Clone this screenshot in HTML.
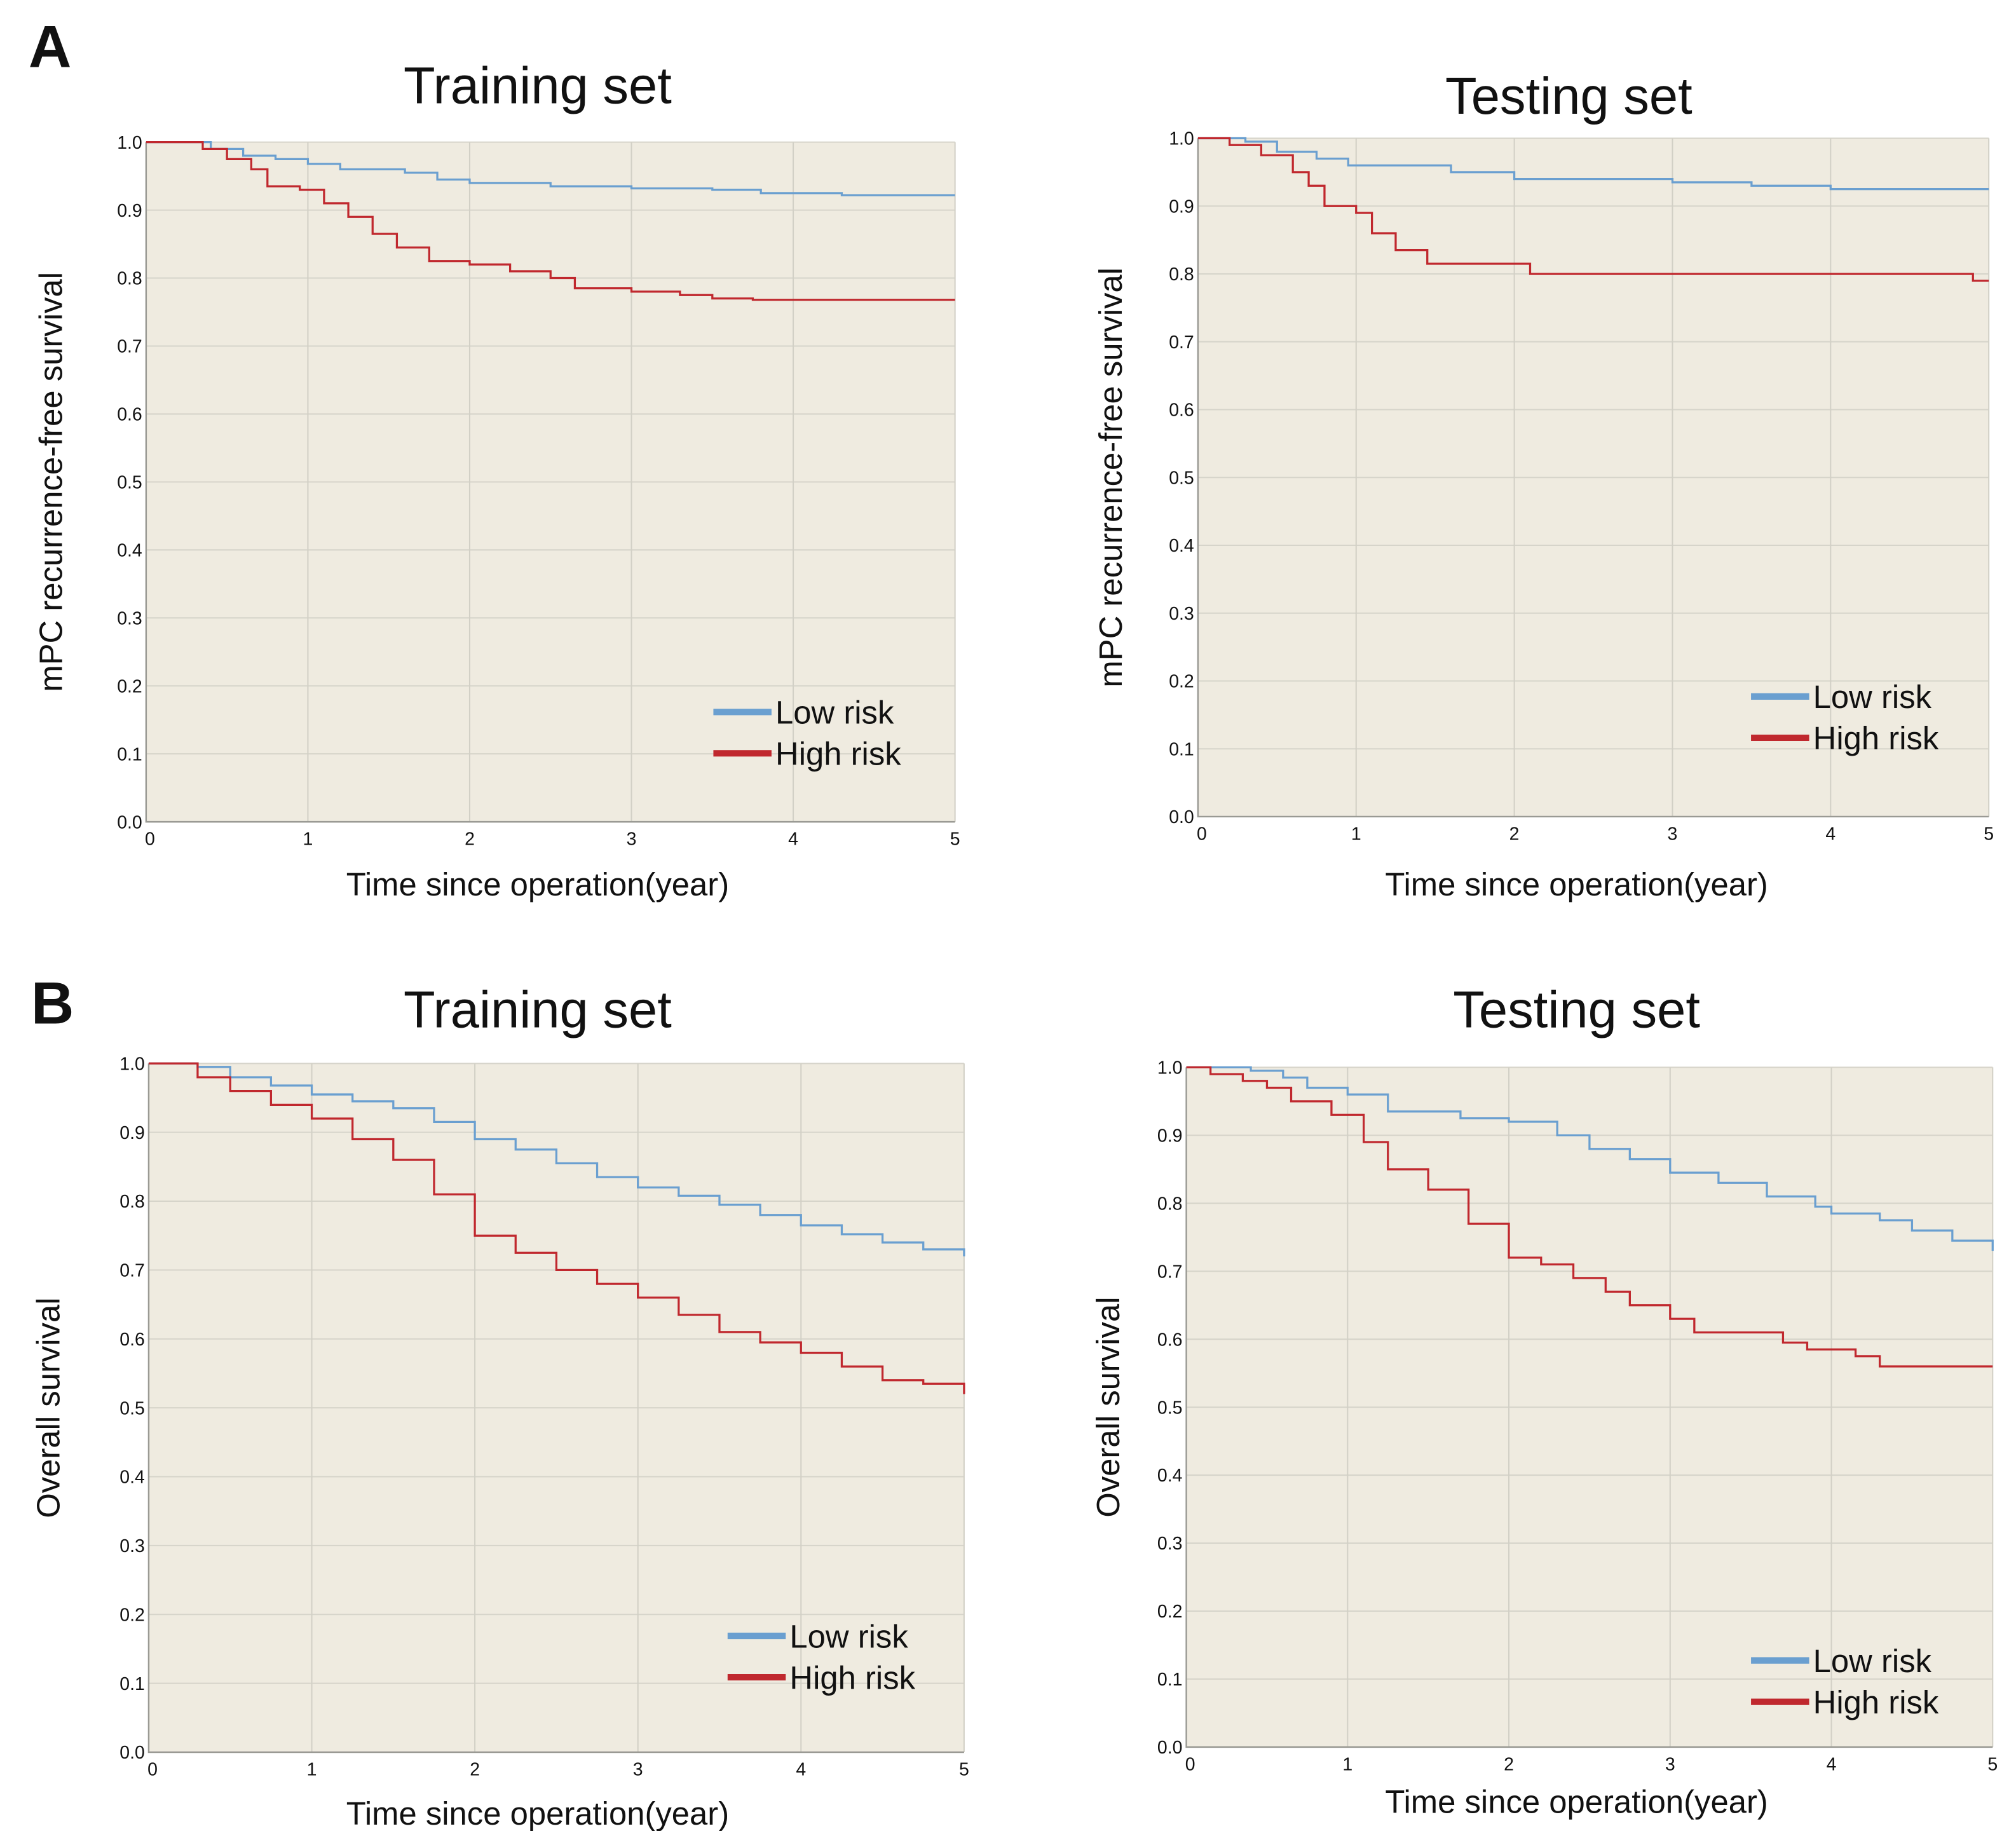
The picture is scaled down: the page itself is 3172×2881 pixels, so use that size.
<!DOCTYPE html>
<html><head><meta charset="utf-8"><style>
html,body{margin:0;padding:0;background:#fff;}
svg{display:block;}
text{font-family:"Liberation Sans",Arial,sans-serif;fill:#111;}
</style></head><body>
<svg id="fig" width="3172" height="2881" viewBox="0 0 1560 1417" xmlns="http://www.w3.org/2000/svg">
<text x="22" y="52" font-size="46" font-weight="bold">A</text>
<text x="24" y="792" font-size="46" font-weight="bold">B</text>
</svg>
<script>
// ---- data arrays ----
const yTicks = [0.0,0.1,0.2,0.3,0.4,0.5,0.6,0.7,0.8,0.9,1.0];
const xTicks = [0,1,2,3,4,5];
const seriesNames = ["Low risk","High risk"];

const aTrainLowT = [0,0.25,0.4,0.6,0.8,1,1.2,1.6,1.8,2,2.5,3,3.5,3.8,4.3,5];
const aTrainLowS = [1,1,0.99,0.98,0.975,0.968,0.96,0.955,0.945,0.94,0.935,0.932,0.93,0.925,0.922,0.922];
const aTrainHighT = [0,0.25,0.35,0.5,0.65,0.75,0.95,1.1,1.25,1.4,1.55,1.75,2,2.25,2.5,2.65,3,3.3,3.5,3.75,5];
const aTrainHighS = [1,1,0.99,0.975,0.96,0.935,0.93,0.91,0.89,0.865,0.845,0.825,0.82,0.81,0.8,0.785,0.78,0.775,0.77,0.768,0.768];

const aTestLowT = [0,0.3,0.5,0.75,0.95,1.6,2,3,3.5,4,5];
const aTestLowS = [1,0.995,0.98,0.97,0.96,0.95,0.94,0.935,0.93,0.925,0.925];
const aTestHighT = [0,0.2,0.4,0.6,0.7,0.8,1,1.1,1.25,1.45,2.1,4.9,5];
const aTestHighS = [1,0.99,0.975,0.95,0.93,0.9,0.89,0.86,0.835,0.815,0.8,0.79,0.79];

const bTrainLowT = [0,0.3,0.5,0.75,1,1.25,1.5,1.75,2,2.25,2.5,2.75,3,3.25,3.5,3.75,4,4.25,4.5,4.75,5];
const bTrainLowS = [1,0.995,0.98,0.968,0.955,0.945,0.935,0.915,0.89,0.875,0.855,0.835,0.82,0.808,0.795,0.78,0.765,0.752,0.74,0.73,0.72];
const bTrainHighT = [0,0.3,0.5,0.75,1,1.25,1.5,1.75,2,2.25,2.5,2.75,3,3.25,3.5,3.75,4,4.25,4.5,4.75,5];
const bTrainHighS = [1,0.98,0.96,0.94,0.92,0.89,0.86,0.81,0.75,0.725,0.7,0.68,0.66,0.635,0.61,0.595,0.58,0.56,0.54,0.535,0.52];

const bTestLowT = [0,0.4,0.6,0.75,1,1.25,1.7,2,2.3,2.5,2.75,3,3.3,3.6,3.9,4,4.3,4.5,4.75,5];
const bTestLowS = [1,0.995,0.985,0.97,0.96,0.935,0.925,0.92,0.9,0.88,0.865,0.845,0.83,0.81,0.795,0.785,0.775,0.76,0.745,0.73];
const bTestHighT = [0,0.15,0.35,0.5,0.65,0.9,1.1,1.25,1.5,1.75,2,2.2,2.4,2.6,2.75,3,3.15,3.7,3.85,4.15,4.3,5];
const bTestHighS = [1,0.99,0.98,0.97,0.95,0.93,0.89,0.85,0.82,0.77,0.72,0.71,0.69,0.67,0.65,0.63,0.61,0.595,0.585,0.575,0.56,0.56];

const NS="http://www.w3.org/2000/svg";
const svg=document.getElementById('fig');
function mk(tag,attrs,parent){const e=document.createElementNS(NS,tag);for(const k in attrs)e.setAttribute(k,attrs[k]);(parent||svg).appendChild(e);return e;}

function panel(p){
  const g=mk('g',{});
  
  
  const sx=t=>p.x0+(p.x1-p.x0)*t/5;
  const sy=v=>p.y0+(p.y1-p.y0)*v;
  const bg=mk('rect',{x:p.x0,y:p.y1,width:p.x1-p.x0,height:p.y0-p.y1,fill:'#efebe0'},g);
  
  
  yTicks.forEach(v=>{
    const l=mk('line',{x1:p.x0,x2:p.x1,y1:sy(v),y2:sy(v),stroke:'#d6d4ca','stroke-width':1},g);
    
    
    const t=mk('text',{x:p.x0-3,y:sy(v)+5,'font-size':14,'text-anchor':'end'},g);
    t.textContent=v.toFixed(1);
    
    
  });
  xTicks.forEach(v=>{
    if(v>0){const l=mk('line',{x1:sx(v),x2:sx(v),y1:p.y1,y2:p.y0,stroke:'#d2d0c6','stroke-width':1},g);
    
    }
    const t=mk('text',{x:sx(v)+(v===0?3:0),y:p.y0+18,'font-size':14,'text-anchor':'middle'},g);
    t.textContent=v;
    
    
  });
  const ax=mk('path',{d:`M${p.x0},${p.y1}V${p.y0}H${p.x1}`,stroke:'#9a9a94','stroke-width':1.2,fill:'none'},g);
  
  
  [[p.lowT,p.lowS,'#6a9fd0','low-risk-curve'],[p.highT,p.highS,'#c0282e','high-risk-curve']].forEach(([T,S,c,n])=>{
    let d=`M${sx(T[0])},${sy(S[0])}`;
    for(let i=1;i<T.length;i++){d+=`H${sx(T[i])}V${sy(S[i])}`;}
    const path=mk('path',{d:d,stroke:c,'stroke-width':1.6,fill:'none'},g);
    
    
  });
  const title=mk('text',{x:p.tx,y:p.ty,'font-size':40,'text-anchor':'middle'},g);
  title.textContent=p.title;
  
  
  const xl=mk('text',{x:p.xlx,y:p.xly,'font-size':25,'text-anchor':'middle'},g);
  xl.textContent='Time since operation(year)';
  
  
  const yc=(p.y0+p.y1)/2;
  const yl=mk('text',{x:p.ylx,y:yc,'font-size':25,'text-anchor':'middle',transform:`rotate(-90 ${p.ylx} ${yc})`},g);
  yl.textContent=p.ylabel;
  
  
  [['#6a9fd0',p.lgy,seriesNames[0]],['#c0282e',p.lgy+32,seriesNames[1]]].forEach(([c,yy,name])=>{
    const ln=mk('line',{x1:p.lgx,x2:p.lgx+45,y1:yy,y2:yy,stroke:c,'stroke-width':5},g);
    
    
    const t=mk('text',{x:p.lgx+48,y:yy+9,'font-size':25},g);
    t.textContent=name;
    
    
  });
}
panel({id:'panel-a-training',x0:113,x1:739,y1:110,y0:636,title:'Training set',tx:416,ty:80,xlx:416,xly:693,ylx:48,ylabel:'mPC recurrence-free survival',lgx:552,lgy:551,lowT:aTrainLowT,lowS:aTrainLowS,highT:aTrainHighT,highS:aTrainHighS});
panel({id:'panel-a-testing',x0:927,x1:1539,y1:107,y0:632,title:'Testing set',tx:1214,ty:88,xlx:1220,xly:693,ylx:868,ylabel:'mPC recurrence-free survival',lgx:1355,lgy:539,lowT:aTestLowT,lowS:aTestLowS,highT:aTestHighT,highS:aTestHighS});
panel({id:'panel-b-training',x0:115,x1:746,y1:823,y0:1356,title:'Training set',tx:416,ty:795,xlx:416,xly:1412,ylx:46,ylabel:'Overall survival',lgx:563,lgy:1266,lowT:bTrainLowT,lowS:bTrainLowS,highT:bTrainHighT,highS:bTrainHighS});
panel({id:'panel-b-testing',x0:918,x1:1542,y1:826,y0:1352,title:'Testing set',tx:1220,ty:795,xlx:1220,xly:1403,ylx:866,ylabel:'Overall survival',lgx:1355,lgy:1285,lowT:bTestLowT,lowS:bTestLowS,highT:bTestHighT,highS:bTestHighS});
</script>
</body></html>
